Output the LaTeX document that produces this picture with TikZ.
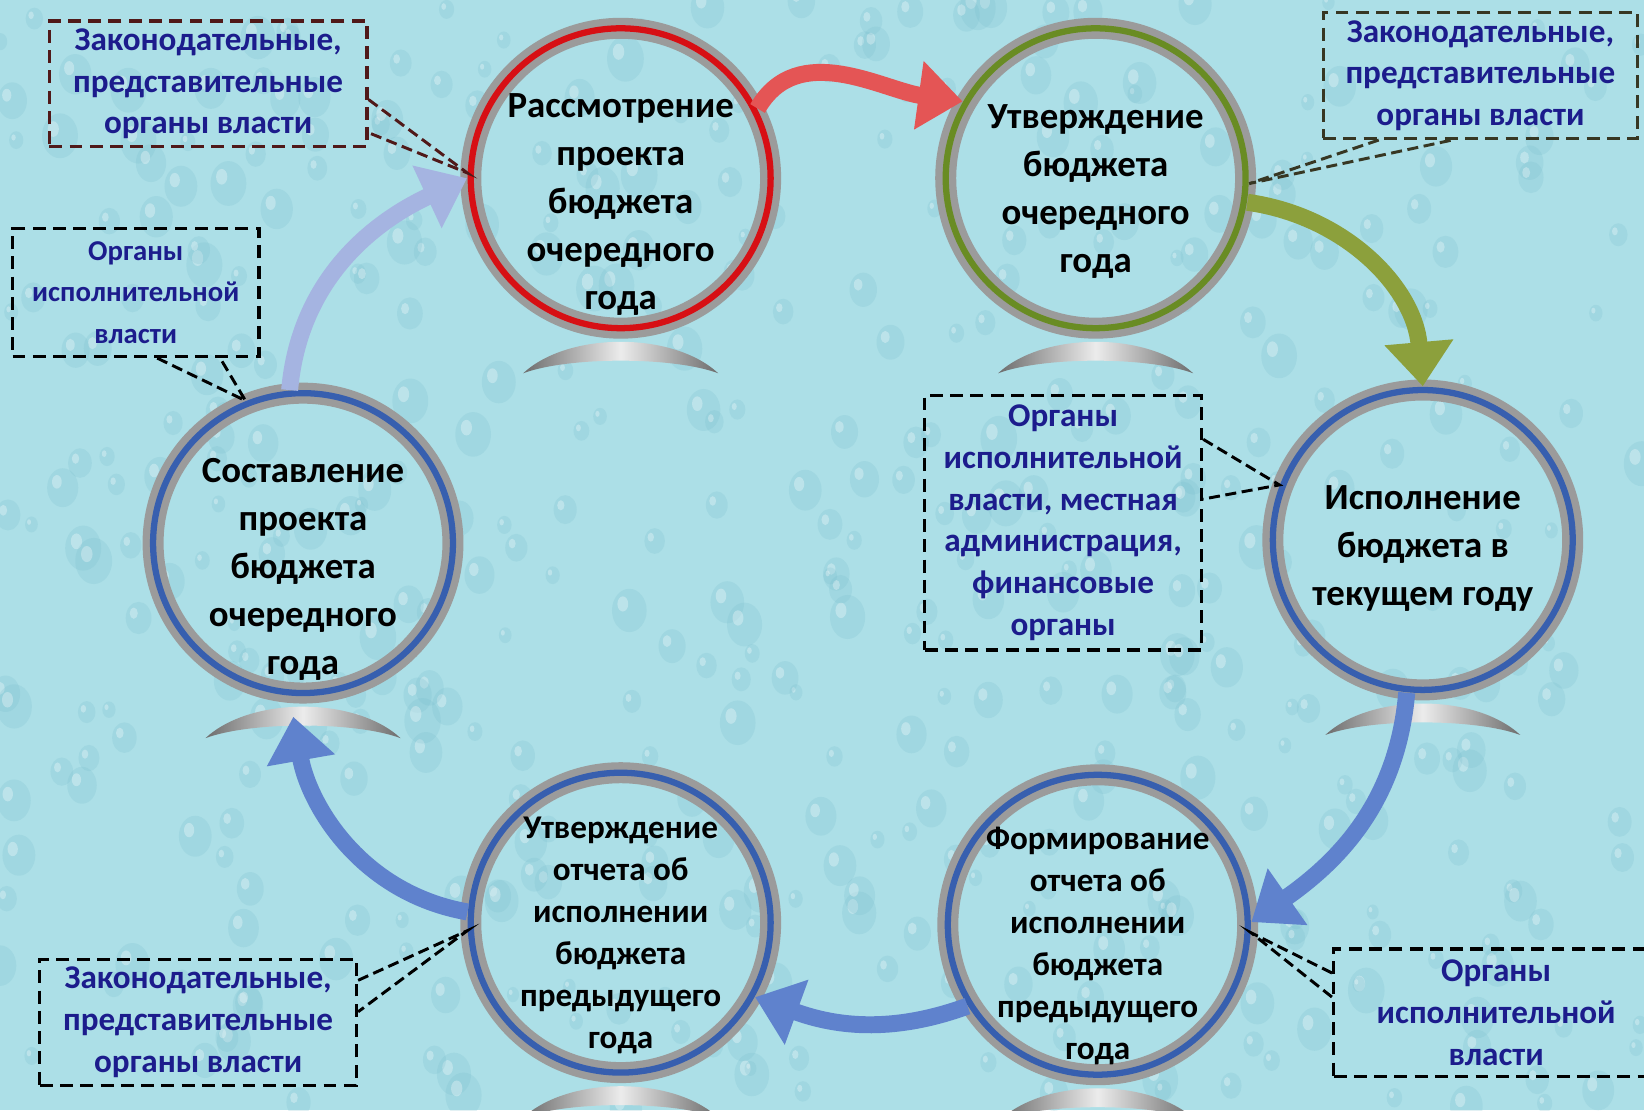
\documentclass[tikz,border=0pt]{standalone}
\usepackage{fontspec}
\setmainfont{Carlito}
\usetikzlibrary{arrows.meta}

\definecolor{waterbg}{RGB}{172,223,231}
\definecolor{dropteal}{RGB}{115,185,202}
\definecolor{ringgray}{RGB}{155,155,155}
\definecolor{ringred}{RGB}{215,15,20}
\definecolor{ringgreen}{RGB}{105,140,35}
\definecolor{ringblue}{RGB}{55,95,175}
\definecolor{labelblue}{RGB}{28,28,140}
\definecolor{boxmaroon}{RGB}{80,25,25}
\definecolor{boxolive}{RGB}{55,55,35}
\definecolor{arrowred}{RGB}{228,85,85}
\definecolor{arrowolive}{RGB}{140,160,60}
\definecolor{arrowblue}{RGB}{95,130,205}
\definecolor{arrowlight}{RGB}{165,180,225}

\tikzset{
  stage/.style={circle, draw=ringgray, double=#1, line width=2pt, double distance=1.7pt,
    minimum size=28.6mm, inner sep=0pt},
  stagetext/.style={align=center, text=black, font=\bfseries\fontsize{10}{13}\selectfont},
  smalltext/.style={align=center, text=black, font=\bfseries\fontsize{9}{11.4}\selectfont},
  note/.style={draw=#1, dash pattern=on 3.5pt off 2pt, line width=0.9pt, align=center,
    text=labelblue, inner sep=0pt, font=\bfseries\fontsize{9}{11.3}\selectfont},
  pointer/.style={draw=#1, dash pattern=on 3pt off 1.5pt, line width=0.8pt},
  flow/.style={draw=#1, line width=4.6pt, -{Triangle[length=12pt, width=18pt]}}
}

\begin{document}
\begin{tikzpicture}[x=1mm, y=1mm]
    % Background
    \useasboundingbox (0,0) rectangle (156.8,105.9);
    \fill[waterbg] (0,0) rectangle (156.8,105.9);
    \pgfmathsetseed{7}
    \foreach \i in {1,...,450}{
        \pgfmathsetmacro\dx{rnd*156.8}
        \pgfmathsetmacro\dy{rnd*105.9}
        \pgfmathsetmacro\dr{0.7+rnd*1.5}
        \fill[dropteal, opacity=0.2] (\dx,\dy) ellipse ({\dr*0.8} and \dr);
        \fill[white, opacity=0.3] (\dx-0.3*\dr,\dy+0.3*\dr) ellipse ({\dr*0.25} and {\dr*0.35});
    }

    % Stages
    \node[stage=ringred] (c1) at (59.2,88.9) {};
    \node[stage=ringgreen] (c2) at (104.5,88.9) {};
    \node[stage=ringblue] (c3) at (135.7,54.4) {};
    \node[stage=ringblue] (c4) at (104.7,17.7) {};
    \node[stage=ringblue] (c5) at (59.2,17.9) {};
    \node[stage=ringblue] (c6) at (28.9,54.1) {};

    % Stands under the stages
    \foreach \s in {c1,c2,c3,c4,c5,c6}
        \shade[shift={(\s.center)}, left color=gray!85!black, right color=gray!85!black, middle color=gray!15]
            (-9.3,-18.6) .. controls (-5,-14.6) and (5,-14.6) .. (9.3,-18.6)
            .. controls (5,-17) and (-5,-17) .. cycle;

    % Stage texts
    \node[stagetext] (t1) at ([yshift=-2.5mm]c1.center) {Рассмотрение\\проекта\\бюджета\\очередного\\года};
    \node[stagetext] (t2) at ([yshift=-1.3mm]c2.center) {Утверждение\\бюджета\\очередного\\года};
    \node[stagetext] (t3) at ([yshift=-0.8mm]c3.center) {Исполнение\\бюджета в\\текущем году};
    \node[smalltext] (t4) at ([yshift=-2mm]c4.center) {Формирование\\отчета об\\исполнении\\бюджета\\предыдущего\\года};
    \node[smalltext] (t5) at ([yshift=-1.2mm]c5.center) {Утверждение\\отчета об\\исполнении\\бюджета\\предыдущего\\года};
    \node[stagetext] (t6) at ([yshift=-2.5mm]c6.center) {Составление\\проекта\\бюджета\\очередного\\года};

    % Arrows
    \draw[flow=arrowred] (c1.27) to[out=60, in=172] (c2.150);
    \draw[flow=arrowolive] (c2.-9) to[out=-8, in=95] (c3.north);
    \draw[flow=arrowblue] (c3.264) to[out=-95, in=35] (c4.1);
    \draw[flow=arrowblue] (c4.212) to[out=200, in=-20] (c5.331);
    \draw[flow=arrowblue, shorten >=2mm] (c5.176) to[out=170, in=-80] (c6.265);
    \draw[flow=arrowlight] (c6.95) to[out=85, in=205] (c1.180);

    % Bodies
    \node[note=boxmaroon, minimum width=30.3mm, minimum height=12mm] (zak1) at (19.85,97.9) {Законодательные,\\представительные\\органы власти};
    \node[note=black, minimum width=23.5mm, minimum height=12.2mm, font=\bfseries\fontsize{7.8}{11.3}\selectfont] (isp1) at (12.95,78.0) {Органы\\исполнительной\\власти};
    \node[note=boxolive, minimum width=30mm, minimum height=12mm] (zak2) at (141.2,98.7) {Законодательные,\\представительные\\органы власти};
    \node[note=black, minimum width=26.4mm, minimum height=24.3mm] (isp2) at (101.4,56.05) {Органы\\исполнительной\\власти, местная\\администрация,\\финансовые\\органы};
    \node[note=black, minimum width=30.2mm, minimum height=12mm] (zak3) at (18.9,8.4) {Законодательные,\\представительные\\органы власти};
    \node[note=black, minimum width=31mm, minimum height=12.2mm] (isp3) at (142.7,9.3) {Органы\\исполнительной\\власти};

    % Pointers
    \draw[pointer=boxmaroon] ([yshift=-1.5mm]zak1.east) -- (c1.178) -- ([yshift=1.5mm]zak1.south east);
    \draw[pointer=black] ([xshift=2.05mm]isp1.south) -- (c6.112) -- ([xshift=8.05mm]isp1.south);
    \draw[pointer=boxolive] ([xshift=-9.7mm]zak2.south) -- (c2.-2) -- ([xshift=-2.7mm]zak2.south);
    \draw[pointer=black] ([yshift=7.95mm]isp2.east) -- (c3.159) -- ([yshift=2.25mm]isp2.east);
    \draw[pointer=black] ([yshift=4mm]zak3.east) -- (c5.183) -- ([yshift=1mm]zak3.east);
    \draw[pointer=black] ([yshift=3.8mm]isp3.west) -- (c4.357) -- ([yshift=1.5mm]isp3.west);
\end{tikzpicture}
\end{document}
